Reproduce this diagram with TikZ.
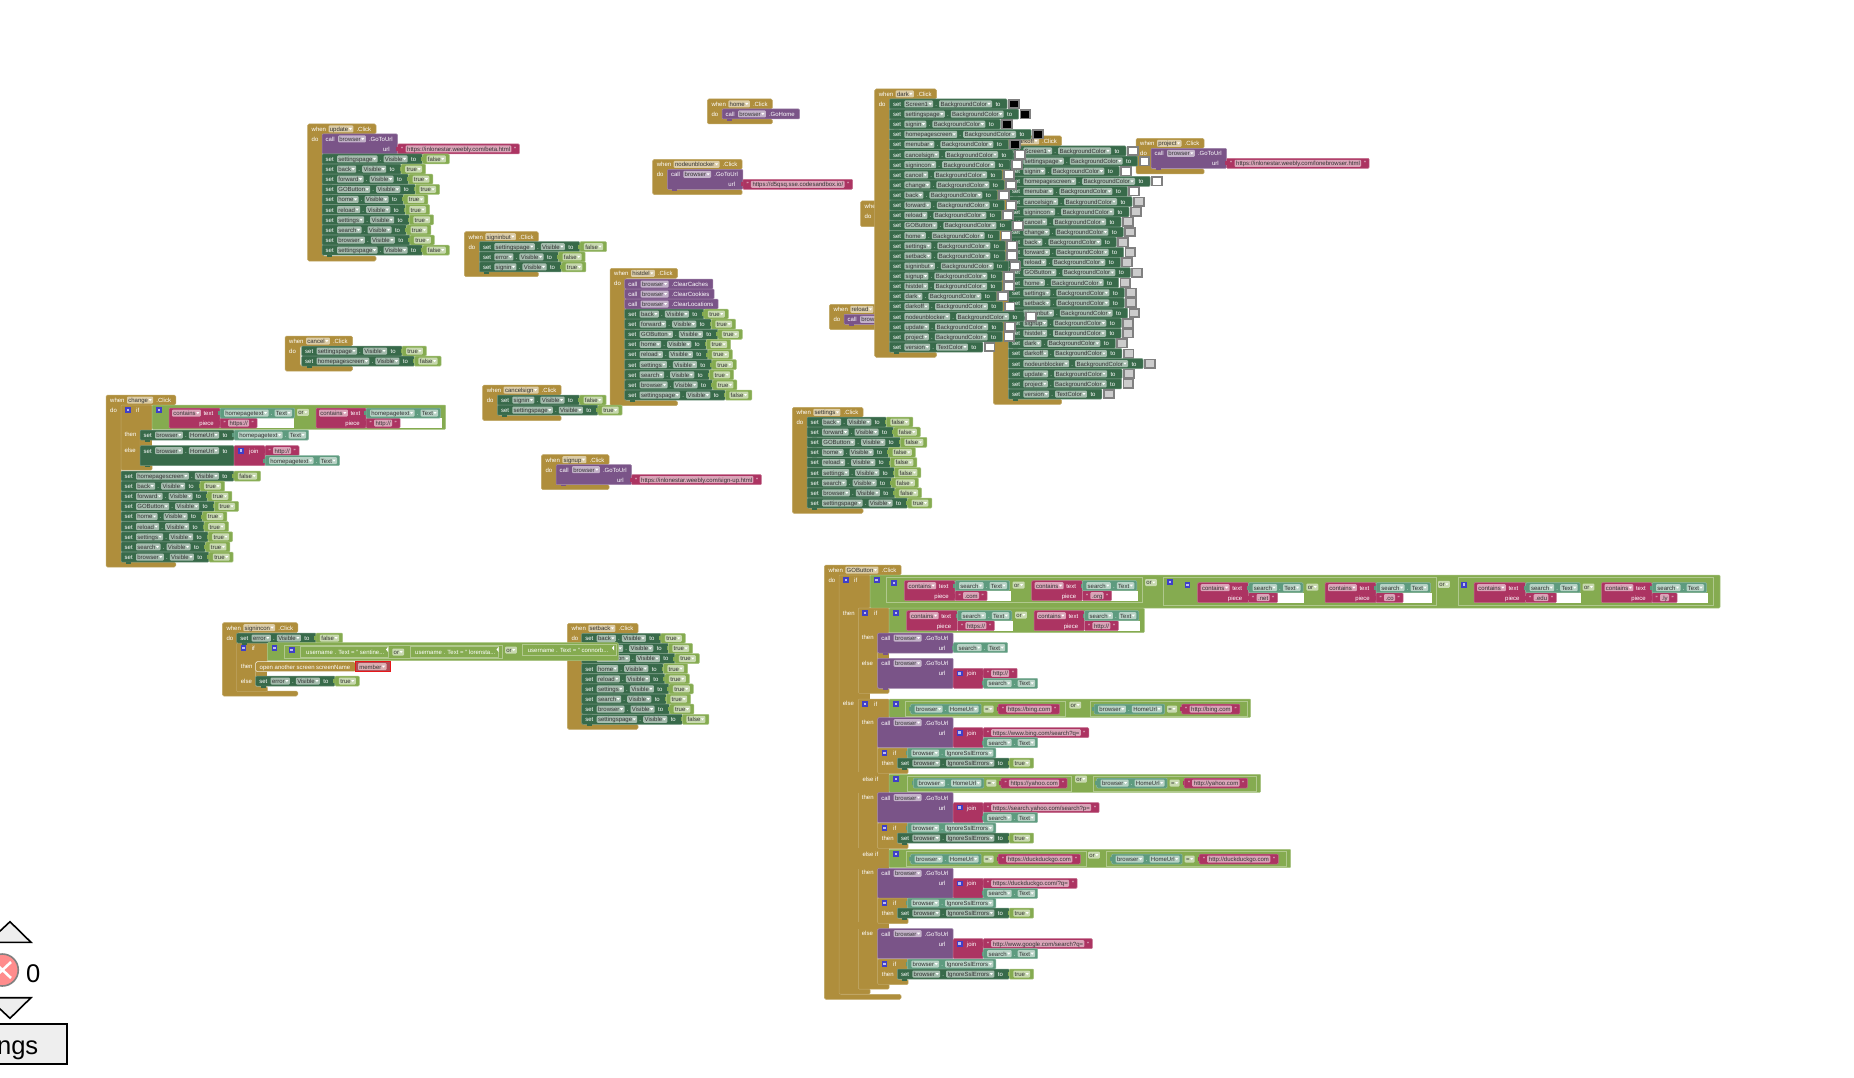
\documentclass[tikz,border=0pt]{standalone}
\usepackage{fontspec}
\setmainfont{Liberation Sans}
\font\bkmeasure="Liberation Sans" at 6pt
\definecolor{bkgold}{HTML}{AF8E3C}
\definecolor{bkdark}{HTML}{386A4A}
\definecolor{bkpurple}{HTML}{7A5488}
\definecolor{bkmag}{HTML}{AC3462}
\definecolor{bkteal}{HTML}{5E9B7F}
\definecolor{bklight}{HTML}{85AB50}
\definecolor{bkred}{HTML}{B04A55}
\definecolor{bkblue}{HTML}{3F3FC8}
\definecolor{bkgrey}{HTML}{808080}
\definecolor{bkpale}{HTML}{CCCCCC}
\definecolor{bkink}{HTML}{333333}
\definecolor{bkpanel}{HTML}{EEEEEE}
\newlength\mlen
\newcommand\blf{\normalfont\fontsize{6}{7}\selectfont}
\newcommand\wof[2]{\settowidth\mlen{\bkmeasure #1}\pgfmathsetmacro#2{\mlen}}
\tikzset{bklab/.style={text=white,font=\blf,inner sep=0pt,anchor=base west},
 bklabr/.style={text=white,font=\blf,inner sep=0pt,anchor=base east},
 bkftxt/.style={text=bkink,font=\blf,inner sep=0pt,anchor=base west}}
% label on row with top y
\newcommand\lbl[3]{\node[bklab] at ({#1},{#2+7.4}) {#3};}
\newcommand\lblr[3]{\node[bklabr] at ({#1},{#2+7.4}) {#3};}
% block
\newcommand\bkblock[5]{\draw[draw=#5!72!white,fill=#5,line width=.5pt,rounded corners=1pt] ({#1},{#2}) rectangle ({#3},{#4});}
% dropdown field
\newcommand\fld[4]{\wof{#4}\fw\pgfmathsetmacro\fe{#1+\fw+6.5}%
 \fill[#3!45!white,rounded corners=1pt] ({#1},{#2+1.5}) rectangle (\fe,{#2+8.5});
 \node[bkftxt] at ({#1+1.2},{#2+7.4}) {#4};
 \fill[white] ({\fe-4.6},{#2+4}) -- ({\fe-1.4},{#2+4}) -- ({\fe-3},{#2+6}) -- cycle;
 \xdef\nx{\fe}}
% set ... dark part: x,y,h,comp,prop
\newcommand\setd[5]{\wof{#4}\wa\wof{#5}\wb
 \pgfmathsetmacro\xd{#1+15+\wa+6.5+6+\wb+6.5+15}%
 \bkblock{#1}{#2}{\xd}{#2+#3}{bkdark}
 \fill[bkdark] ({#1+5},{#2+#3}) rectangle ({#1+10},{#2+#3+1.6});
 \lbl{#1+3.5}{#2}{set}
 \fld{#1+15}{#2}{bkdark}{#4}
 \lbl{\nx+2}{#2}{.}
 \fld{\nx+6}{#2}{bkdark}{#5}
 \lbl{\nx+3.3}{#2}{to}
 \xdef\nx{\xd}}
\newcommand\valb[3]{\pgfmathsetmacro\vx{#1}\wof{#3}\wc
 \bkblock{\vx}{#2}{\vx+4+\wc+6.5+3.5}{#2+10}{bklight}
 \fill[bklight] ({\vx-1.5},{#2+3}) rectangle ({\vx},{#2+7});
 \fld{\vx+4}{#2}{bklight}{#3}}
\newcommand\colb[3]{\pgfmathsetmacro\vx{#1}%
 \fill[bkgrey] ({\vx+1},{#2}) rectangle ({\vx+12.5},{#2+10});
 \fill[#3] ({\vx+2.8},{#2+1.6}) rectangle ({\vx+10.7},{#2+8.4});}
\newcommand\srow[5]{\setd{#1}{#2}{10}{#3}{#4}\valb{\nx}{#2}{#5}}
\newcommand\vstack[3]{\foreach \ca/\cb [count=\ci from 0] in {#3}{\pgfmathsetmacro\yy{#2+10.125*\ci}\srow{#1}{\yy}{\ca}{Visible}{\cb}}}
\newcommand\bgrows[4]{\foreach \ca [count=\ci from 0] in {Screen1,settingspage,signin,homepagescreen,menubar,cancelsign,signincon,cancel,change,back,forward,reload,GOButton,home,settings,setback,signinbut,signup,histdel,dark,darkoff,nodeunblocker,update,project}{\pgfmathsetmacro\yy{#2+10.125*\ci}\setd{#1}{\yy}{10}{\ca}{BackgroundColor}\ifnum\ci<5 \colb{\nx}{\yy}{#3}\else\colb{\nx}{\yy}{#4}\fi}
 \setd{#1}{#2+243}{10}{version}{TextColor}\colb{\nx}{#2+243}{#4}}
% hat block: x,y,name,bottom
\newcommand\hatb[4]{\wof{#3}\wa\wof{.Click}\wb
 \pgfmathsetmacro\xr{#1+21+\wa+6.5+3+\wb+5}%
 \draw[fill=bkgold,draw=bkgold!80!white,line width=.5pt,rounded corners=1.5pt] ({#1},{#2}) -- (\xr,{#2}) -- (\xr,{#2+10}) -- ({#1+15},{#2+10}) -- ({#1+15},{#4-5}) -- (\xr,{#4-5}) -- (\xr,{#4}) -- ({#1},{#4}) -- cycle;
 \lbl{#1+4}{#2}{when}\fld{#1+21}{#2}{bkgold}{#3}\lbl{\nx+3}{#2}{.Click}\lbl{#1+4}{#2+10}{do}}
% gold C shape: x,y,xn,xs,yh,yb
\newcommand\gspine[6]{\draw[fill=bkgold,draw=bkgold!80!white,line width=.5pt,rounded corners=1pt] ({#1},{#2}) -- ({#3},{#2}) -- ({#3},{#5}) -- ({#4},{#5}) -- ({#4},{#6-5}) -- ({#3},{#6-5}) -- ({#3},{#6}) -- ({#1},{#6}) -- cycle;}
\newcommand\gfill[4]{\fill[bkgold] ({#1},{#2}) rectangle ({#3},{#4});}
% call row without url: x,y,method
\newcommand\callr[3]{\wof{browser}\wa\wof{#3}\wb
 \pgfmathsetmacro\xc{#1+16+\wa+6.5+3+\wb+5}%
 \bkblock{#1}{#2}{\xc}{#2+10}{bkpurple}
 \fill[bkpurple] ({#1+5},{#2+10}) rectangle ({#1+10},{#2+11.6});
 \lbl{#1+3.5}{#2}{call}\fld{#1+16}{#2}{bkpurple}{browser}\lbl{\nx+3}{#2}{#3}}
% call url: x,y,h ; leaves \xe
\newcommand\callu[3]{\wof{browser}\wa\wof{.GoToUrl}\wb
 \pgfmathsetmacro\xc{#1+16+\wa+6.5+3+\wb+5}%
 \bkblock{#1}{#2}{\xc}{#2+#3}{bkpurple}
 \fill[bkpurple] ({#1+5},{#2+#3}) rectangle ({#1+10},{#2+#3+1.6});
 \lbl{#1+3.5}{#2}{call}\fld{#1+16}{#2}{bkpurple}{browser}\lbl{\nx+3}{#2}{.GoToUrl}
 \lblr{\xc-7.5}{#2+10}{url}\xdef\xe{\xc}}
% string
\newcommand\strb[3]{\pgfmathsetmacro\sx{#1}\wof{#3}\wc
 \pgfmathsetmacro\se{\sx+8+\wc+3+8}%
 \bkblock{\sx}{#2}{\se}{#2+10}{bkmag}
 \fill[bkmag] ({\sx-1.6},{#2+3}) rectangle ({\sx},{#2+7});
 \fill[bkmag!45!white,rounded corners=1pt] ({\sx+8},{#2+1.5}) rectangle ({\se-8},{#2+8.5});
 \node[bkftxt] at ({\sx+9.5},{#2+7.4}) {#3};
 \lbl{\sx+3.5}{#2}{"}\lbl{\se-5.5}{#2}{"}
 \xdef\nx{\se}}
% getter
\newcommand\getb[4]{\pgfmathsetmacro\gx{#1}\wof{#3}\wa\wof{#4}\wb
 \pgfmathsetmacro\ge{\gx+4+\wa+6.5+6+\wb+6.5+2.5}%
 \bkblock{\gx}{#2}{\ge}{#2+10}{bkteal}
 \fill[bkteal] ({\gx-1.6},{#2+3}) rectangle ({\gx},{#2+7});
 \fld{\gx+4}{#2}{bkteal}{#3}\lbl{\nx+2}{#2}{.}\fld{\nx+6}{#2}{bkteal}{#4}\xdef\nx{\ge}}
\newcommand\bkicon[2]{\fill[bkblue] ({#1-2.8},{#2-2.8}) rectangle ({#1+2.8},{#2+2.8});\fill[bkblue!35!white] ({#1-1.3},{#2-1.3}) rectangle ({#1+1.3},{#2+1.3});}
% contains: x,y,xg,comp,str,xend
\newcommand\contb[6]{\bkblock{#1}{#2}{#3}{#2+20}{bkmag}
 \fill[white] ({#3},{#2+10}) rectangle ({#6},{#2+20});
 \fld{#1+3}{#2}{bkmag}{contains}\lbl{\nx+2.5}{#2}{text}\lblr{#3-6}{#2+10}{piece}
 \strb{#3}{#2+10}{#5}\getb{#3}{#2}{#4}{Text}}
% browser.HomeUrl = "..."
\newcommand\eqb[3]{\getb{#1}{#2}{browser}{HomeUrl}\fld{\nx+2.5}{#2}{bklight}{=}\strb{\nx+4.5}{#2}{#3}}
\newcommand\boxo[4]{\draw[bklight!65!white,line width=.5pt] ({#1},{#2}) rectangle ({#3},{#4});}
% GO helpers
\newcommand\gojoin[2]{\callu{877.7}{#1}{30}
 \pgfmathsetmacro\ja{\xe}%
 \bkblock{\ja}{#1+10}{\ja+30}{#1+30}{bkmag}
 \bkicon{\ja+6.5}{#1+15}\lbl{\ja+13.5}{#1+10}{join}
 \strb{\ja+30}{#1+10}{#2}\getb{\ja+30}{#1+20}{search}{Text}}
\newcommand\subif[1]{\gspine{877.7}{#1}{908}{897.3}{#1+10}{#1+25.5}
 \bkicon{884.3}{#1+5}\lbl{893}{#1}{if}\lbl{881.7}{#1+10}{then}
 \getb{907.3}{#1}{browser}{IgnoreSslErrors}
 \setd{897.3}{#1+10}{10}{browser}{IgnoreSslErrors}\valb{\nx}{#1+10}{true}}
\begin{document}
\begin{tikzpicture}[x=1pt,y=-1pt]
\useasboundingbox (0,0) rectangle (1854,1078);
% update
\hatb{307.5}{124}{update}{261}
\callu{322}{134}{20}\strb{\xe}{144}{https://inlonestar.weebly.com/beta.html}
\vstack{322}{154}{settingspage/false,back/true,forward/true,GOButton/true,home/true,reload/true,settings/true,search/true,browser/true,settingspage/false}
% signinbut
\hatb{464.3}{231.7}{signinbut}{276.7}
\vstack{479.3}{241.7}{settingspage/false,error/false,signin/true}
% home
\hatb{707.3}{99}{home}{124}
\callr{722}{109}{.GoHome}
% nodeunblocker
\hatb{652.7}{159.3}{nodeunblocker}{194.7}
\callu{667.3}{169.3}{20}\strb{\xe}{179.3}{https://d5qsq.sse.codesandbox.io/}
% histdel
\hatb{610}{268.3}{histdel}{405.7}
\callr{624.7}{279}{.ClearCaches}\callr{624.7}{289}{.ClearCookies}\callr{624.7}{299}{.ClearLocations}
\vstack{624.7}{309}{back/true,forward/true,GOButton/true,home/true,reload/true,settings/true,search/true,browser/true,settingspage/false}
% cancel
\hatb{285}{336}{cancel}{371}
\vstack{301.5}{346}{settingspage/true,homepagescreen/false}
% cancelsign
\hatb{482.7}{385}{cancelsign}{420.7}
\vstack{497.3}{395}{signin/false,settingspage/true}
% signup
\hatb{541.3}{454.7}{signup}{489.7}
\callu{556}{464.7}{20}\strb{\xe}{474.7}{https://inlonestar.weebly.com/sign-up.html}
% settings
\hatb{792.3}{407.3}{settings}{513.3}
\vstack{807}{417}{back/false,forward/false,GOButton/false,home/false,reload/false,settings/false,search/false,browser/false,settingspage/true}
% project, darkoff, stubs, dark
\hatb{1136}{138.3}{project}{174}
\callu{1151}{148.3}{20}\strb{\xe}{158.3}{https://inlonestar.weebly.com/lonebrowser.html}
\hatb{993.3}{136}{darkoff}{404.3}
\bgrows{1008.3}{146}{white}{bkpale}{}
\hatb{829.3}{304.3}{reload}{329.7}
\callr{844}{314.3}{.GoHome}
\hatb{860.5}{201}{back}{226.7}
\callr{875}{211}{.GoBack}
\hatb{874.7}{89}{dark}{357.3}
\bgrows{889.3}{99}{black}{white}{}
% change
\hatb{106}{395}{change}{567}
\gspine{121}{405}{152}{140}{430}{470}
\gfill{140}{439}{152}{446}
\bkicon{128}{410}\lbl{136}{405}{if}\lbl{124.5}{429}{then}\lbl{124.5}{445}{else}
\bkblock{152}{405}{445.7}{429.3}{bklight}
\bkicon{159}{410}
\contb{169}{408}{220}{homepagetext}{https://}{294.3}
\fld{297}{407.3}{bklight}{or}
\contb{316}{408}{366}{homepagetext}{http://}{441.7}
\setd{140}{430}{10}{browser}{HomeUrl}\getb{\nx}{430}{homepagetext}{Text}
\setd{140}{445.7}{20}{browser}{HomeUrl}\xdef\xa{\nx}
\bkblock{\xa}{445.7}{\xa+31}{465.7}{bkmag}
\bkicon{\xa+7}{450.7}\lbl{\xa+15}{445.7}{join}
\strb{\xa+31}{445.7}{http://}\getb{\xa+31}{455.7}{homepagetext}{Text}
\vstack{121}{471}{homepagescreen/false,back/true,forward/true,GOButton/true,home/true,reload/true,settings/true,search/true,browser/true}
% setback
\hatb{567.3}{623.3}{setback}{729.3}
\vstack{581.7}{633.3}{back/true,forward/true,GOButton/true,home/true,reload/true,settings/true,search/true,browser/true,settingspage/false}
% signincon
\hatb{222.3}{622.7}{signincon}{696}
\gspine{236.7}{643}{267.3}{255.7}{661.7}{691.7}
\gfill{255.7}{671}{267.3}{677}
\srow{236.7}{633}{error}{Visible}{false}
\bkicon{243.3}{648}\lbl{251.7}{643}{if}\lbl{240.7}{661}{then}\lbl{240.7}{676}{else}
\bkblock{267.3}{642.7}{618.3}{660.7}{bklight}
\boxo{284}{645}{502.7}{658.5}\boxo{300}{646.5}{388}{657}\boxo{410}{646.5}{498}{657}\boxo{522}{644.5}{616}{655.5}
\bkicon{274.3}{648}\bkicon{291.7}{650}
\lbl{306}{647}{username . Text = " sentine...}
\fld{392.3}{647}{bklight}{or}
\lbl{415}{647}{username . Text = " lorensta...}
\fld{505}{645}{bklight}{or}
\lbl{527.7}{645}{username . Text = " connorb...}
\fill[white] (386,649.5) -- (388,647) -- (388,652) -- cycle;
\fill[white] (496.5,649.5) -- (498.5,647) -- (498.5,652) -- cycle;
\fill[white] (612,648) -- (614,645.5) -- (614,650.5) -- cycle;
\draw[fill=bkgold,draw=white!80!bkgold,line width=.5pt,rounded corners=1.5pt] (255.7,661.7) rectangle (355.7,671.7);
\lbl{259.5}{661.7}{open another screen}\lbl{316}{661.7}{screenName}
\draw[fill=bkred,draw=red!70!bkred,line width=.8pt] (355.7,661.7) rectangle (390.3,671.7);
\fld{358}{661.7}{bkred}{member}
\srow{255.7}{676}{error}{Visible}{true}
% GOButton
\hatb{824.3}{565}{GOButton}{999.3}
\gspine{839}{575}{870}{858.3}{608}{994}
\gfill{858.3}{692}{870}{700}
\bkicon{846}{580}\lbl{854}{575}{if}\lbl{842.7}{608}{then}\lbl{842.7}{698}{else}
\bkblock{870}{575}{1720}{608}{bklight}
\boxo{886.7}{577.5}{1142.7}{602.5}\boxo{1163.3}{577.5}{1436}{605}\boxo{1458}{577.5}{1713}{605}
\bkicon{876.7}{580}\bkicon{894}{583}
\contb{904.3}{580.7}{955}{search}{.com}{1010.7}
\fld{1012.7}{580}{bklight}{or}
\contb{1031.7}{580.7}{1082.3}{search}{.org}{1138.3}
\fld{1145}{577.5}{bklight}{or}
\bkicon{1170}{582}\bkicon{1187.3}{585}
\contb{1197.7}{582.7}{1248.5}{search}{.net}{1304.3}
\fld{1306.4}{582}{bklight}{or}
\contb{1325}{582.7}{1376}{search}{.co}{1431.7}
\fld{1438}{579.3}{bklight}{or}
\bkicon{1463.8}{584.7}
\contb{1474}{582.7}{1525.7}{search}{.edu}{1580.8}
\fld{1582.6}{582}{bklight}{or}
\contb{1601.5}{582.7}{1652}{search}{.ly}{1708}
% first inner if
\gspine{858.3}{608}{889}{877.7}{633}{693.3}
\gfill{877.7}{652}{889}{659}
\bkicon{865}{613}\lbl{874}{608}{if}\lbl{861.7}{632.3}{then}\lbl{861.7}{658.3}{else}
\bkblock{889}{608}{1144.3}{632.7}{bklight}
\bkicon{896}{613}
\contb{906.7}{610.7}{957.3}{search}{https://}{1013.3}
\fld{1015}{610}{bklight}{or}
\contb{1034}{610.7}{1084.3}{search}{http://}{1140}
\callu{877.7}{633}{20}\getb{\xe}{642.7}{search}{Text}
\gojoin{658.3}{http://}
% second inner if
\gspine{858.3}{699}{889}{877.7}{718}{989}
\gfill{858.3}{772}{889}{793}\gfill{858.3}{848}{889}{868.5}\gfill{858.3}{922}{889}{929}
\bkicon{865}{704}\lbl{874}{699}{if}\lbl{861.7}{717}{then}
\bkblock{889}{699}{1250.7}{717.3}{bklight}
\bkicon{896}{704}\boxo{905}{701}{1065}{716}\boxo{1090}{701}{1247}{716}
\eqb{910.7}{704}{https://bing.com}
\fld{1069.3}{700}{bklight}{or}
\eqb{1094}{704}{http://bing.com}
\gojoin{717.7}{https://www.bing.com/search?q=}
\subif{748}
\lbl{862.3}{774}{else if}
\bkblock{889}{774.3}{1260.7}{792.3}{bklight}
\bkicon{896}{779}\boxo{907}{776}{1071}{791}\boxo{1093}{776}{1256}{791}
\eqb{913.3}{778}{https://yahoo.com}
\fld{1075}{774}{bklight}{or}
\eqb{1096.7}{778}{http://yahoo.com}
\lbl{861.7}{792}{then}
\gojoin{792.6}{https://search.yahoo.com/search?p=}
\subif{823}
\lbl{862.3}{849}{else if}
\bkblock{889}{849.3}{1290.7}{867.7}{bklight}
\bkicon{896}{854}\boxo{906}{851}{1086}{866}\boxo{1106}{851}{1286}{866}
\eqb{910.7}{854}{https://duckduckgo.com}
\fld{1088}{850}{bklight}{or}
\eqb{1111.7}{854}{http://duckduckgo.com}
\lbl{861.7}{867}{then}
\gojoin{868.3}{https://duckduckgo.com/?q=}
\subif{898}
\lbl{861.7}{928}{else}
\gojoin{928.7}{http://www.google.com/search?q=}
\subif{959}
% lower-left controls
\draw[fill=bkpanel,draw=black,line width=1.6pt,line join=miter] (-12,942.3) -- (10,921.7) -- (31,942.3) -- cycle;
\draw[fill=bkpanel,draw=black,line width=1.6pt] (-12,997.7) -- (10,1018.3) -- (31,997.7) -- cycle;
\draw[fill=red!45!white,draw=bkgrey,line width=1.6pt] (2.3,970) circle (16);
\draw[white,line width=2.6pt] (-6,962) -- (11,978) (11,962) -- (-6,978);
\node[inner sep=0pt,anchor=base west,text=black,font=\normalfont\fontsize{25.6}{28}\selectfont] (errcount) at (26,982) {0};
\draw[fill=bkpanel,draw=black,line width=2pt] (-5,1024) rectangle (66.7,1064);
\node[inner sep=0pt,anchor=base east,text=black,font=\normalfont\fontsize{25.6}{28}\selectfont] (warn) at (38.5,1054) {ngs};
\end{tikzpicture}
\end{document}
